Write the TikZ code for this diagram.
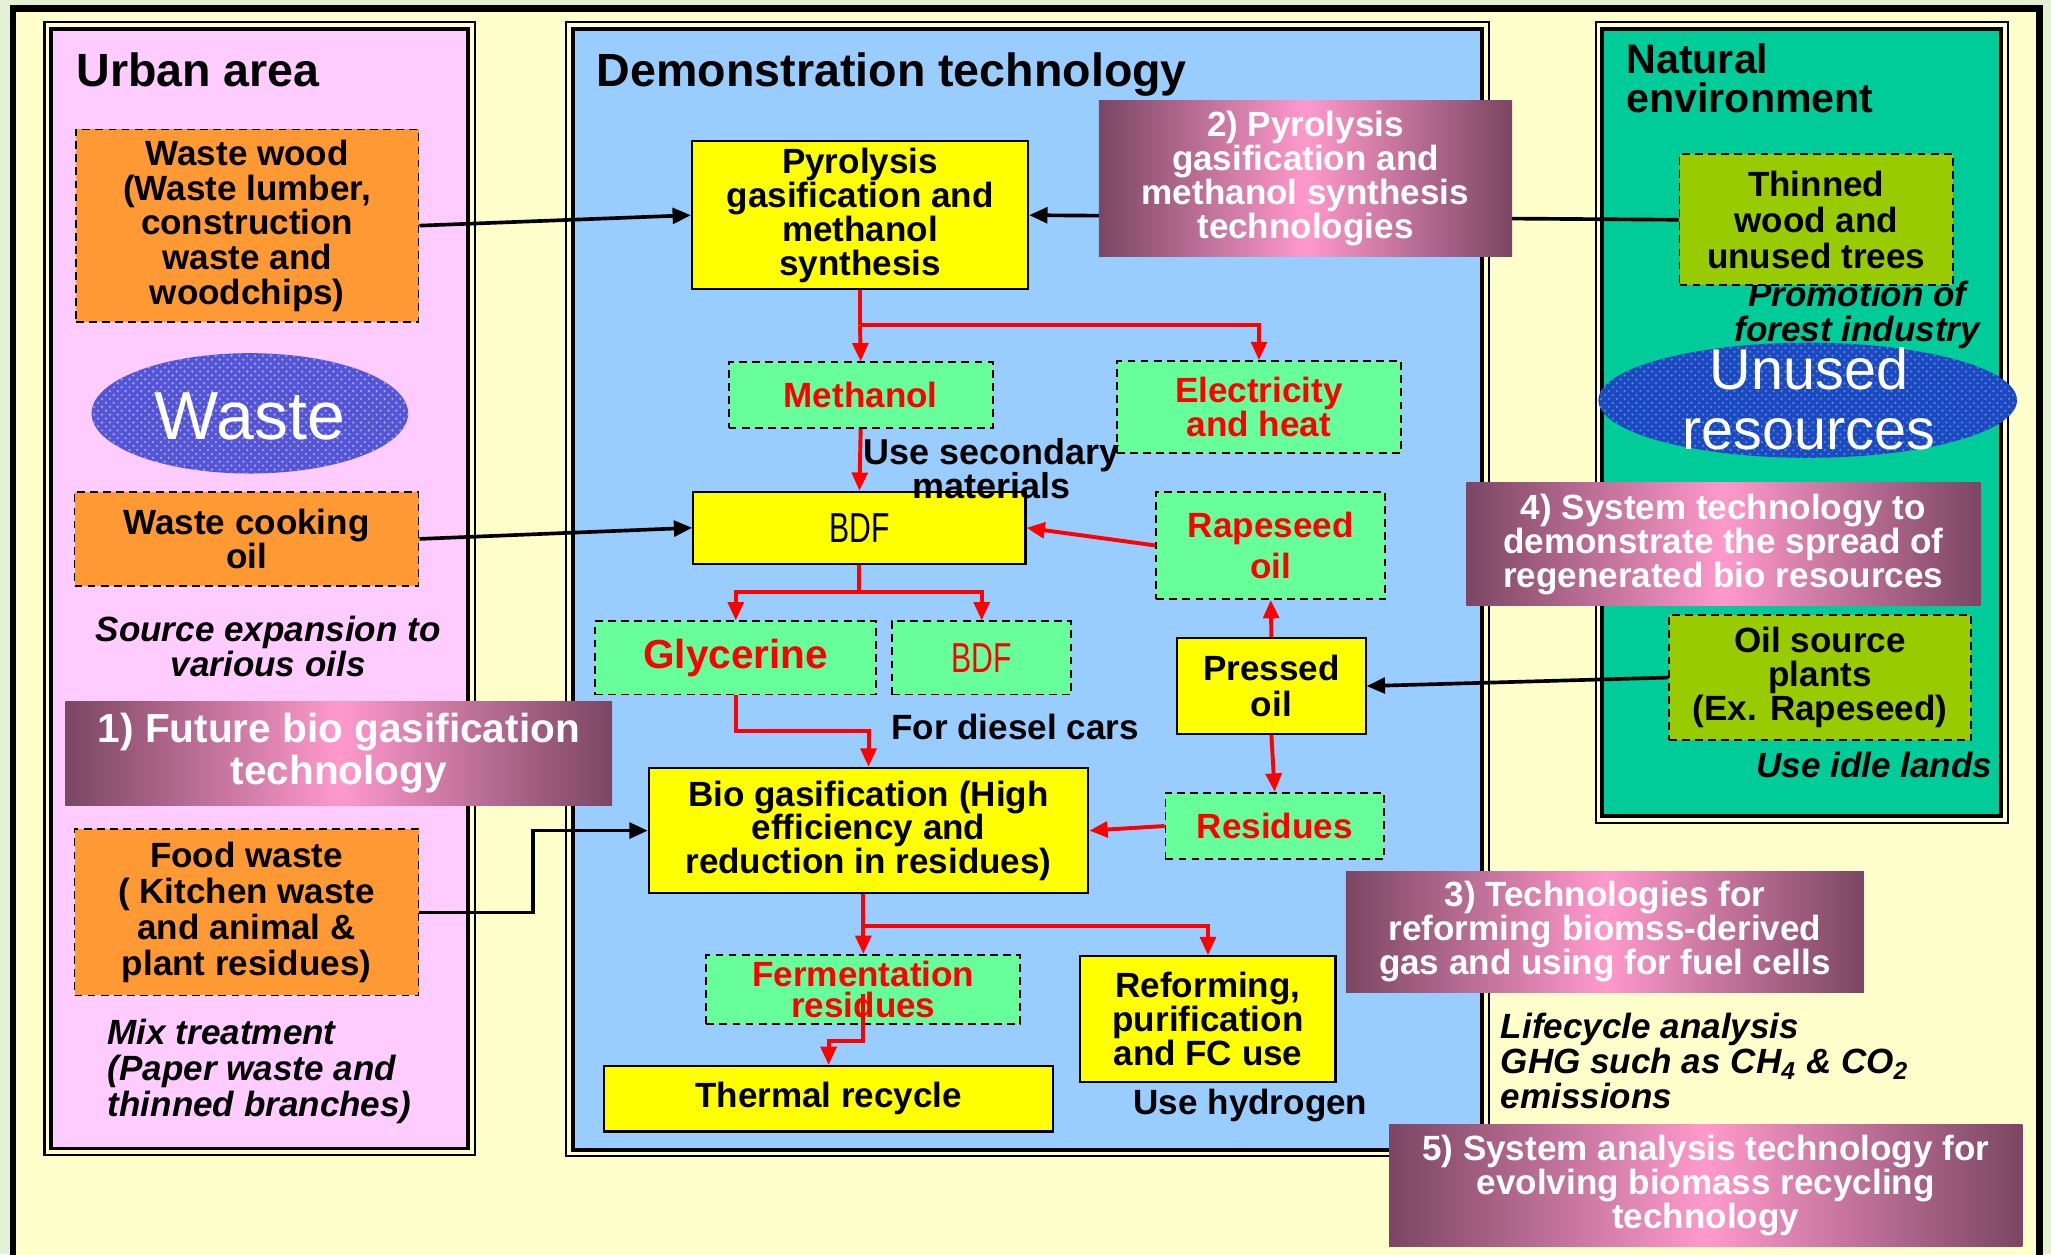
\documentclass[tikz,border=0pt]{standalone}
\usepackage{fontspec}
\setmainfont{Liberation Sans}
\usetikzlibrary{arrows.meta,shapes.geometric,patterns}
\definecolor{cream}{HTML}{FFFFCC}
\definecolor{pinkbg}{HTML}{FFCCFF}
\definecolor{bluebg}{HTML}{99CCFF}
\definecolor{greenbg}{HTML}{00CC99}
\definecolor{orangebox}{HTML}{FF9933}
\definecolor{yellowbox}{HTML}{FFFF00}
\definecolor{mint}{HTML}{66FF99}
\definecolor{olivebox}{HTML}{99CC00}
\definecolor{mauve}{HTML}{7B4663}
\definecolor{pinkc}{HTML}{FF99CC}
\definecolor{leaf}{HTML}{E4F0D4}
\definecolor{wasteblue}{HTML}{5454D6}
\definecolor{unusedblue}{HTML}{2444C0}
\definecolor{redline}{HTML}{FF0000}
\tikzset{
  sz/.style 2 args={minimum width=#1*0.5pt, minimum height=#2*0.5pt},
  basebox/.style={rectangle, inner sep=0pt, align=center, font=\bfseries\fontsize{13.4}{13.25}\selectfont},
  orangebx/.style={basebox, fill=orangebox, draw=black, line width=0.7pt, dash pattern=on 3pt off 2pt},
  yellowbx/.style={basebox, fill=yellowbox, draw=black, line width=0.8pt},
  mintbx/.style={basebox, fill=mint, draw=black, line width=0.7pt, dash pattern=on 3pt off 2pt, text=redline},
  olivebx/.style={basebox, fill=olivebox, draw=black, line width=0.7pt, dash pattern=on 3pt off 2pt},
  lbl/.style={rectangle, inner sep=0pt, align=center, left color=mauve, right color=mauve, middle color=pinkc, text=white, font=\bfseries\fontsize{13.4}{13}\selectfont},
  plaintxt/.style={inner sep=0pt, align=center, font=\bfseries\fontsize{13.4}{13}\selectfont},
  itx/.style={inner sep=0pt, align=center, font=\bfseries\itshape\fontsize{13.4}{13.5}\selectfont},
  ttl/.style={inner sep=0pt, anchor=base west, font=\bfseries\fontsize{17.8}{20}\selectfont},
  blkarrow/.style={draw=black, line width=1.4pt, -{Triangle[length=7pt,width=6pt]}},
  redl/.style={draw=redline, line width=1.5pt},
  redarrow/.style={draw=redline, line width=1.5pt, -{Triangle[length=7pt,width=6pt]}},
  outerpanel/.style={draw=black, line width=0.8pt},
  innerpanel/.style={draw=black, line width=1.5pt},
  bdftxt/.style={font=\fontsize{16}{16}\selectfont}
}
\begin{document}
\begin{tikzpicture}[x=0.5pt, y=-0.5pt]
\useasboundingbox (0,0) rectangle (1568,959);
\clip (0,0) rectangle (1568,959);
% background and frame
\fill[leaf] (0,0) rectangle (1568,959);
\draw[fill=cream, line width=2.5pt] (10,6.5) rectangle (1559,1000);
% panels
\draw[outerpanel] (34,17) rectangle (363,883);
\draw[innerpanel, fill=pinkbg] (39,22) rectangle (358,878);
\draw[outerpanel] (433,17) rectangle (1138,884);
\draw[innerpanel, fill=bluebg] (438,22) rectangle (1133,879);
\draw[outerpanel] (1220,17) rectangle (1535,629);
\draw[innerpanel, fill=greenbg] (1225,22) rectangle (1530,624);
% titles
\node[ttl] (turban) at (58,66) {Urban area};
\node[ttl] (tdemo) at (456,66) {Demonstration technology};
\node[inner sep=0pt, anchor=north west, align=left, font=\bfseries\fontsize{15.75}{14.75}\selectfont] (tnat) at (1243,33) {Natural\\environment};
% italic notes under ellipse
\node[itx] (promo) at (1420,241) {Promotion of\\forest industry};
% ellipses
\fill[wasteblue] (191,316) ellipse [x radius=121, y radius=46];
\fill[pattern=crosshatch dots, pattern color=white!45!wasteblue] (191,316) ellipse [x radius=121, y radius=46];
\node[inner sep=0pt, text=white, font=\fontsize{26}{26}\selectfont] (waste) at (191,318) {Waste};
\fill[unusedblue] (1382,306) ellipse [x radius=160, y radius=44];
\fill[pattern=crosshatch dots, pattern color=cyan!50!unusedblue] (1382,306) ellipse [x radius=160, y radius=44];
\node[inner sep=0pt, align=center, text=white, font=\fontsize{22}{23}\selectfont] (unused) at (1383,305) {Unused\\resources};
% urban boxes
\node[orangebx, sz={262}{147}] (ww) at (189,172.5) {Waste wood\\(Waste lumber,\\construction\\waste and\\woodchips)};
\node[orangebx, sz={263}{72}] (wc) at (188.5,412) {Waste cooking\\oil};
\node[orangebx, sz={263}{127}, font=\bfseries\fontsize{13.4}{13.75}\selectfont] (food) at (188.5,697.5) {Food waste\\( Kitchen waste\\and animal \&\\plant residues)};
% demonstration boxes
\node[yellowbx, sz={257}{113}, font=\bfseries\fontsize{13.4}{13}\selectfont] (pyro) at (657.5,164.5) {Pyrolysis\\gasification and\\methanol\\synthesis};
\node[mintbx, sz={202}{50}] (meth) at (658,302) {Methanol};
\node[mintbx, sz={217}{70}, font=\bfseries\fontsize{13.4}{13}\selectfont] (elec) at (962.5,311) {Electricity\\and heat};
\node[yellowbx, sz={254}{55}, bdftxt] (bdf) at (657,403.5) {\scalebox{0.72}[1]{BDF}};
\node[mintbx, sz={175}{82}, font=\bfseries\fontsize{13.4}{16}\selectfont] (rape) at (971.5,417) {Rapeseed\\oil};
\node[mintbx, sz={215}{56}, font=\bfseries\fontsize{15.5}{16}\selectfont] (gly) at (562.5,503) {Glycerine};
\node[mintbx, sz={137}{56}, bdftxt] (bdfb) at (750.5,503) {\scalebox{0.72}[1]{BDF}};
\node[yellowbx, sz={144}{73}, font=\bfseries\fontsize{13.4}{13.5}\selectfont] (press) at (972,524.5) {Pressed\\oil};
\node[mintbx, sz={167}{51}] (res) at (974.5,631.5) {Residues};
\node[yellowbx, sz={336}{96}, font=\bfseries\fontsize{13.4}{12.75}\selectfont] (bio) at (664,635) {Bio gasification (High\\efficiency and\\reduction in residues)};
\node[mintbx, sz={240}{53}, font=\bfseries\fontsize{13.4}{12}\selectfont] (ferm) at (660,756.5) {Fermentation\\residues};
\node[yellowbx, sz={343}{50}] (therm) at (633.5,840) {Thermal recycle};
\node[yellowbx, sz={195}{96}, font=\bfseries\fontsize{13.4}{13}\selectfont] (refo) at (923.5,779) {Reforming,\\purification\\and FC use};
% natural boxes
\node[olivebx, sz={209}{100}, font=\bfseries\fontsize{13.4}{13.75}\selectfont] (thin) at (1388.5,168) {Thinned\\wood and\\unused trees};
\node[olivebx, sz={231}{96}, font=\bfseries\fontsize{13.4}{13}\selectfont] (oil) at (1391.5,518) {Oil source\\plants\\(Ex. Rapeseed)};
% black arrows
\draw[blkarrow] (ww.east) -- (pyro.west);
\draw[blkarrow] (thin.west) -- (pyro.east);
\draw[blkarrow] (wc.east) -- (bdf.west);
\draw[blkarrow] (oil.west) -- (press.east);
\draw[blkarrow] (food.east) -- ++(87,0) |- (bio.west);
% red arrows
\draw[redl] (pyro.south) -- ++(0,27) coordinate (j1);
\draw[redarrow] (j1) -- (meth.north);
\draw[redarrow] (j1) -| (elec.north);
\draw[redarrow] (meth.south) -- (bdf.north);
\draw[redarrow] (rape.west) -- (bdf.east);
\draw[redl] (bdf.south) -- ++(0,21) coordinate (j2);
\draw[redarrow] (j2) -| (gly.north);
\draw[redarrow] (j2) -| (bdfb.north);
\draw[redarrow] (gly.south) -- ++(0,27) -| (bio.north);
\draw[redarrow] (press.north) -- (rape.south);
\draw[redarrow] (press.south) -- (res.north);
\draw[redarrow] (res.west) -- (bio.east);
\draw[redl] (bio.south -| ferm.north) -- ++(0,24) coordinate (j3);
\draw[redarrow] (j3) -- (ferm.north);
\draw[redarrow] (j3) -| (refo.north);
\coordinate (fs) at (660,760);
\draw[redarrow] (fs) -- ++(0,36) -| (therm.north);
% technology labels
\node[lbl, sz={418}{80}, font=\bfseries\fontsize{15.5}{16}\selectfont] (l1) at (259,576) {1) Future bio gasification\\technology};
\node[lbl, sz={316}{119}] (l2) at (998,136.5) {2) Pyrolysis\\gasification and\\methanol synthesis\\technologies};
\node[lbl, sz={396}{93}] (l3) at (1227,712.5) {3) Technologies for\\reforming biomss-derived\\gas and using for fuel cells};
\node[lbl, sz={393}{94}] (l4) at (1317.5,416) {4) System technology to\\demonstrate the spread of\\regenerated bio resources};
\node[lbl, sz={484}{93}] (l5) at (1304,906.5) {5) System analysis technology for\\evolving biomass recycling\\technology};
% free texts
\node[plaintxt, font=\bfseries\fontsize{13.75}{13}\selectfont] (usesec) at (758,358) {Use secondary\\materials};
\node[plaintxt] (diesel) at (776,556) {For diesel cars};
\node[plaintxt] (hydro) at (956,845) {Use hydrogen};
\node[itx] (idle) at (1433,585) {Use idle lands};
\node[itx, anchor=west, align=left] (lca) at (1147,811) {Lifecycle analysis\\GHG such as CH\textsubscript{4} \& CO\textsubscript{2}\\emissions};
\node[itx, font=\bfseries\itshape\fontsize{13.4}{13.5}\selectfont] (src) at (205,494) {Source expansion to\\various oils};
\node[itx, anchor=west, align=left, font=\bfseries\itshape\fontsize{13.4}{13.75}\selectfont] (mix) at (82,819) {Mix treatment\\(Paper waste and\\thinned branches)};
\end{tikzpicture}
\end{document}
